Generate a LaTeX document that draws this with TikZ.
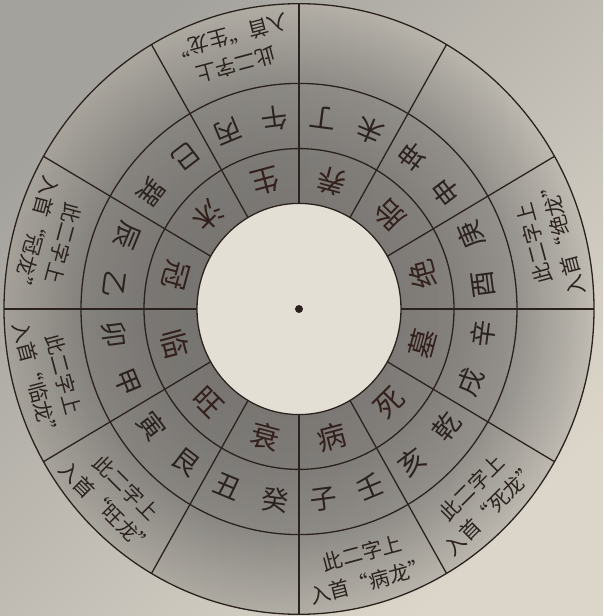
\documentclass[tikz,border=0pt]{standalone}
\usepackage{fontspec}
\newfontfamily\cjk{Noto Sans CJK SC}
\usetikzlibrary{fadings}
\definecolor{ink}{HTML}{2B221E}
\definecolor{inkr}{HTML}{33201C}
\definecolor{bgA}{HTML}{A4A29D}
\definecolor{bgB}{HTML}{DCD6CA}
\definecolor{cA}{HTML}{84817D}
\definecolor{cB}{HTML}{898682}
\definecolor{cC}{HTML}{989590}
\definecolor{cD}{HTML}{C0BCB3}
\definecolor{cream}{HTML}{E4DFD4}
\pgfdeclareradialshading{disc}{\pgfpoint{0bp}{0bp}}{color(0bp)=(cA); color(8.6bp)=(cA); color(13.1bp)=(cB); color(18.5bp)=(cC); color(25bp)=(cD); color(50bp)=(cD)}
\tikzset{
  ringline/.style={draw=ink, line width=1.3pt},
  ringA/.style={font=\cjk\fontsize{29}{29}\selectfont, text=inkr, inner sep=0pt},
  ringB/.style={font=\cjk\fontsize{27}{27}\selectfont, text=ink, inner sep=0pt},
  ringC/.style={font=\cjk\fontsize{20.5}{20.5}\selectfont, text=ink, inner sep=0pt},
}
\begin{document}
\begin{tikzpicture}[x=1pt,y=1.035pt]
\useasboundingbox (-299pt,-307pt) rectangle (304pt,309pt);
\shade[shading=axis, top color=bgA, bottom color=bgB, shading angle=45] (-299pt,-307pt) rectangle (304pt,309pt);
\shade[shading=disc] (0,0) ellipse [x radius=295pt, y radius=305.3pt];
\fill[black, opacity=0.14, path fading=east] (0,0) ellipse [x radius=295pt, y radius=305.3pt];
\fill[cream] (0,0) ellipse [x radius=102pt, y radius=105.6pt];
\foreach \ra/\rb in {102/105.6,155/160.4,218/225.6,295/305.3}
  \draw[ringline] (0,0) ellipse [x radius=\ra pt, y radius=\rb pt];
\foreach \ang in {0,30,...,330}
  \draw[ringline] (\ang:102) -- (\ang:295);
\fill[ink] (0,0) circle (4pt);
\foreach \ang/\ch [count=\i] in {15/绝,45/胎,75/养,105/生,135/沐,165/冠,195/临,225/旺,255/衰,285/病,315/死,345/墓}
  \node[ringA, rotate=\ang+90] (a\i) at (\ang:128) {\ch};
\foreach \ang/\ch [count=\i] in {7.5/酉,22.5/庚,37.5/申,52.5/坤,67.5/未,82.5/丁,97.5/午,112.5/丙,127.5/巳,142.5/巽,157.5/辰,172.5/乙,187.5/卯,202.5/甲,217.5/寅,232.5/艮,247.5/丑,262.5/癸,277.5/子,292.5/壬,307.5/亥,322.5/乾,337.5/戌,352.5/辛}
  \node[ringB, rotate=\ang+90] (b\i) at (\ang:186) {\ch};
\foreach \ang/\ch [count=\i] in {15/绝,105/生,165/冠,195/临,225/旺,285/病,315/死}{
  \node[ringC, rotate=\ang+90] (p\i) at (\ang:244) {此二字上};
  \node[ringC, rotate=\ang+90] (q\i) at (\ang:272.5) {入首“\ch 龙”};
}
\end{tikzpicture}
\end{document}
